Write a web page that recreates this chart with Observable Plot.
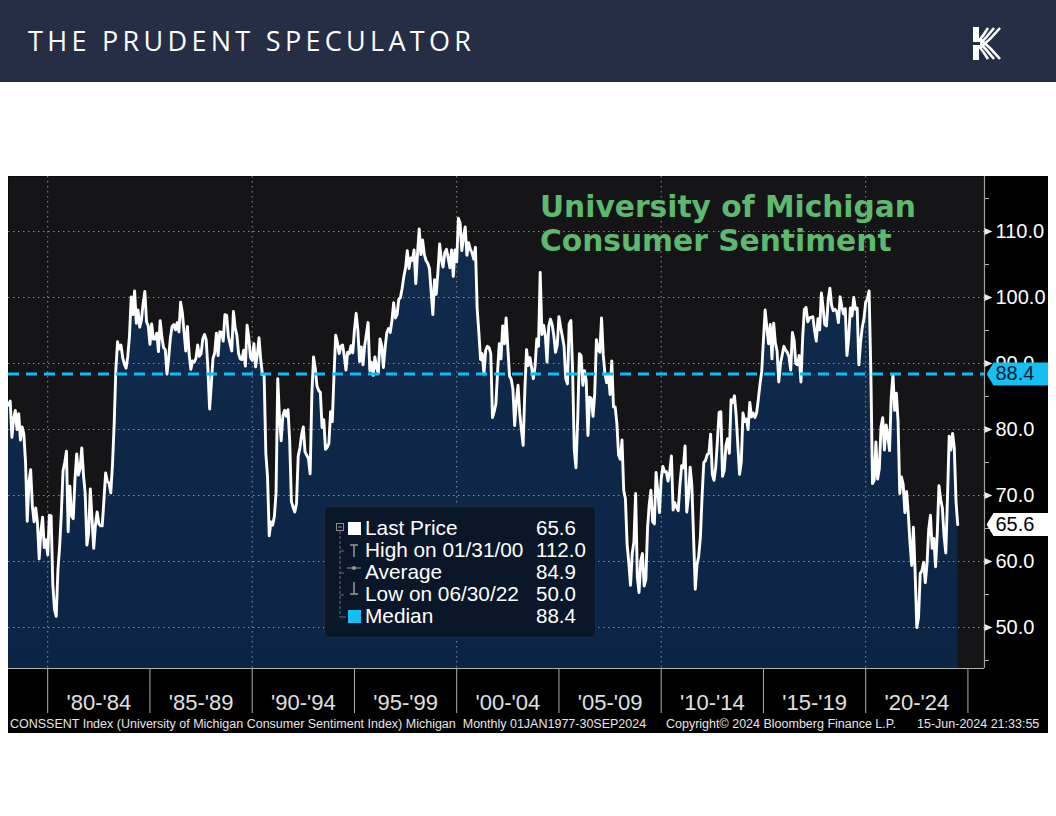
<!DOCTYPE html>
<html>
<head>
<meta charset="utf-8">
<script src="https://cdn.jsdelivr.net/npm/d3@7"></script>
<script src="https://cdn.jsdelivr.net/npm/@observablehq/plot@0.6"></script>
<style>
  html, body { margin: 0; padding: 0; }
  body { width: 1056px; height: 816px; background: #ffffff; position: relative; overflow: hidden; font-family: "Liberation Sans", Arial, sans-serif; }
  #header { position: absolute; left: 0; top: 0; width: 1056px; height: 82px; background: #252e44; }
  #brand { position: absolute; left: 28px; top: 23px; color: #ffffff; font-family: "Open Sans", "Noto Sans", sans-serif; font-size: 27px; letter-spacing: 4.3px; line-height: 36px; white-space: nowrap; }
  #logo { position: absolute; left: 972px; top: 27px; }
  #chart { position: absolute; left: 8px; top: 176px; width: 1040px; height: 557px; background: #000000; overflow: hidden; }
  #chart svg.plot { position: absolute; left: 0; top: 0; }
  #title { position: absolute; left: 532px; top: 14px; color: #5db96d; font-family: "DejaVu Sans", sans-serif; font-weight: bold; font-size: 29.7px; line-height: 34px; white-space: nowrap; }
  #legend { position: absolute; left: 316px; top: 330px; width: 270px; height: 130px; background: #0a1729; border: 1px solid #1f2c3d; border-radius: 5px; }
  #legend .row { position: absolute; left: 40px; height: 22px; line-height: 22px; font-size: 20.8px; color: #ffffff; white-space: nowrap; }
  #legend .val { position: absolute; left: 211px; height: 22px; line-height: 22px; font-size: 20.5px; color: #ffffff; white-space: nowrap; }
  #legend svg { position: absolute; left: 0; top: 0; }
  .foot { position: absolute; top: 541px; font-size: 12.5px; line-height: 14px; color: #e6e6e6; white-space: nowrap; font-family: "Liberation Sans", Arial, sans-serif; }
</style>
</head>
<body>
<div id="header">
  <div id="brand">THE PRUDENT SPECULATOR</div>
  <svg id="logo" width="30" height="33" viewBox="0 0 30 33">
    <rect x="1" y="0" width="6" height="33" fill="#ffffff"/>
    <g stroke="#ffffff" stroke-width="2.6" fill="none">
      <path d="M5 16 Q 12 8 16 1"/>
      <path d="M6 19 Q 15 10 22 1"/>
      <path d="M8 21 Q 19 12 28 1"/>
      <path d="M5 17 Q 12 25 16 32"/>
      <path d="M6 14 Q 15 23 22 32"/>
      <path d="M8 12 Q 19 21 28 32"/>
    </g>
    <rect x="0" y="15" width="8" height="3" fill="#252e44"/>
  </svg>
</div>

<div id="chart">
  <div id="plotHolder"></div>
  <div id="title">University of Michigan<br>Consumer Sentiment</div>
  <div id="legend">
    <svg width="40" height="130">
      <rect x="11.5" y="16.5" width="7" height="7" fill="none" stroke="#8a8a8a" stroke-width="1"/>
      <line x1="13" y1="20" x2="17" y2="20" stroke="#8a8a8a" stroke-width="1"/>
      <line x1="15" y1="24" x2="15" y2="110" stroke="#6f6f6f" stroke-width="1" stroke-dasharray="3,2"/>
      <line x1="15" y1="44" x2="19" y2="44" stroke="#6f6f6f"/>
      <line x1="15" y1="66" x2="19" y2="66" stroke="#6f6f6f"/>
      <line x1="15" y1="88" x2="19" y2="88" stroke="#6f6f6f"/>
      <line x1="15" y1="110" x2="21" y2="110" stroke="#6f6f6f"/>
      <rect x="23" y="15" width="13" height="13" fill="#ffffff"/>
      <line x1="25" y1="38" x2="33" y2="38" stroke="#9a9a9a" stroke-width="1.5"/>
      <line x1="29" y1="38" x2="29" y2="50" stroke="#9a9a9a" stroke-width="1.5"/>
      <line x1="22" y1="61" x2="36" y2="61" stroke="#9a9a9a" stroke-width="1"/>
      <circle cx="29" cy="61" r="2" fill="#9a9a9a"/>
      <line x1="29" y1="75" x2="29" y2="87" stroke="#9a9a9a" stroke-width="1.5"/>
      <line x1="25" y1="87" x2="33" y2="87" stroke="#9a9a9a" stroke-width="1.5"/>
      <rect x="23" y="103" width="13" height="13" fill="#14bff2"/>
    </svg>
  </div>
  <div class="foot" id="foot1"></div>
  <div class="foot" id="foot2"></div>
  <div class="foot" id="foot3"></div>
</div>

<script>
// ---- Monthly University of Michigan Consumer Sentiment, Jan 1978 - Jun 2024 ----
const cs1978_1984 = [
  83.7, 84.3, 78.8, 81.6, 82.9, 80.0, 82.4, 78.4, 80.4, 79.3, 75.0, 66.1,
  72.1, 73.9, 68.4, 66.0, 68.1, 65.8, 60.4, 64.5, 66.7, 62.1, 63.3, 61.0,
  67.0, 66.9, 56.5, 52.7, 51.7, 58.7, 62.3, 67.3, 73.7, 75.0, 76.7, 64.5,
  71.4, 66.9, 66.5, 72.4, 76.3, 73.1, 74.1, 77.2, 73.1, 70.3, 62.5, 64.3,
  71.0, 66.5, 62.0, 65.5, 67.5, 65.7, 65.4, 65.4, 69.3, 73.4, 72.1, 71.9,
  70.4, 74.6, 80.8, 89.1, 93.3, 92.2, 92.8, 90.9, 89.9, 89.3, 91.1, 94.2,
  100.1, 97.4, 101.0, 96.1, 98.1, 95.5, 96.6, 99.1, 100.9, 96.3, 95.7, 92.9
];
const cs1985_1989 = [
  96.0, 93.7, 93.7, 94.6, 91.8, 96.5, 94.0, 92.4, 92.1, 88.4, 90.9, 93.9,
  95.6, 95.9, 95.1, 96.2, 94.8, 99.3, 97.7, 94.9, 91.9, 95.6, 91.4, 89.1,
  90.4, 90.2, 90.8, 92.8, 91.1, 91.5, 93.7, 94.4, 93.6, 89.3, 83.1, 86.8,
  90.8, 91.6, 94.6, 91.2, 94.8, 94.7, 93.4, 97.4, 97.3, 94.1, 93.0, 91.9,
  97.9, 95.4, 94.3, 91.5, 90.7, 90.6, 92.0, 89.6, 95.8, 93.9, 90.9, 90.5
];
const cs1990_1994 = [
  93.0, 89.5, 91.3, 93.9, 90.6, 88.3, 88.2, 76.4, 72.8, 63.9, 66.0, 65.5,
  66.8, 70.4, 87.7, 81.8, 78.3, 82.1, 82.9, 82.0, 83.0, 78.3, 69.1, 68.2,
  67.5, 68.8, 76.0, 77.2, 79.2, 80.4, 76.6, 76.1, 75.6, 73.3, 85.3, 91.0,
  89.3, 86.6, 85.9, 85.6, 80.3, 81.5, 77.0, 77.3, 77.9, 82.7, 81.2, 88.2,
  94.3, 93.2, 91.5, 92.6, 92.8, 91.2, 89.0, 91.7, 91.5, 92.7, 91.6, 95.1
];
const cs1995_1999 = [
  97.6, 95.1, 90.3, 92.5, 89.8, 92.7, 94.4, 96.2, 88.9, 90.2, 88.2, 91.0,
  89.3, 88.5, 93.7, 92.7, 89.4, 92.4, 94.7, 95.3, 94.7, 96.5, 99.2, 96.9,
  97.4, 99.7, 100.0, 101.4, 103.2, 104.5, 107.1, 104.4, 106.0, 105.6, 107.2, 102.1,
  106.6, 110.4, 106.5, 108.7, 106.5, 105.6, 105.2, 104.4, 100.9, 97.4, 102.7, 100.5,
  103.9, 108.1, 105.7, 104.6, 106.8, 107.3, 106.0, 104.5, 107.2, 103.2, 107.2, 105.4
];
const cs2000_2004 = [
  112.0, 111.3, 107.1, 109.2, 110.7, 106.4, 108.3, 107.3, 106.8, 105.8, 107.6, 98.4,
  94.7, 90.6, 91.5, 88.4, 92.0, 92.6, 92.4, 91.5, 81.8, 82.7, 83.9, 88.8,
  93.0, 90.7, 95.7, 93.0, 96.9, 92.4, 88.1, 87.6, 86.1, 80.6, 84.2, 86.7,
  82.4, 79.9, 77.6, 86.0, 92.1, 89.7, 90.9, 89.3, 87.7, 89.6, 93.7, 92.6,
  103.8, 94.4, 95.8, 94.2, 90.2, 95.6, 96.7, 95.9, 94.2, 91.7, 92.8, 97.1
];
const cs2005_2009 = [
  95.5, 94.1, 92.6, 87.7, 86.9, 96.0, 96.5, 89.1, 76.9, 74.2, 81.6, 91.5,
  91.2, 86.7, 88.9, 87.4, 79.1, 84.9, 84.7, 82.0, 85.4, 93.6, 92.1, 91.7,
  96.9, 91.3, 88.4, 87.1, 88.3, 85.3, 90.4, 83.4, 83.4, 80.9, 76.1, 75.5,
  78.4, 70.8, 69.5, 62.6, 59.8, 56.4, 61.2, 63.0, 70.3, 57.6, 55.3, 60.1,
  61.2, 56.3, 57.3, 65.1, 68.7, 70.8, 66.0, 65.7, 73.5, 70.6, 67.4, 72.5
];
const cs2010_2014 = [
  74.4, 73.6, 73.6, 72.2, 73.6, 76.0, 67.8, 68.9, 68.2, 67.7, 71.6, 74.5,
  74.2, 77.5, 67.5, 69.8, 74.3, 71.5, 63.7, 55.8, 59.5, 60.8, 63.7, 69.9,
  75.0, 75.3, 76.2, 76.4, 79.3, 73.2, 72.3, 74.3, 78.3, 82.6, 82.7, 72.9,
  73.8, 77.6, 78.6, 76.4, 84.5, 84.1, 85.1, 82.1, 77.5, 73.2, 75.1, 82.5,
  81.2, 81.6, 80.0, 84.1, 81.9, 82.5, 81.8, 82.5, 84.6, 86.9, 88.8, 93.6
];
const cs2015_2019 = [
  98.1, 95.4, 93.0, 95.9, 90.7, 96.1, 93.1, 91.9, 87.2, 90.0, 91.3, 92.6,
  92.0, 91.7, 91.0, 89.0, 94.7, 93.5, 90.0, 89.8, 91.2, 87.2, 93.8, 98.2,
  98.5, 96.3, 96.9, 97.0, 97.1, 95.0, 93.4, 96.8, 95.1, 100.7, 98.5, 95.9,
  95.7, 99.7, 101.4, 98.8, 98.0, 98.2, 97.9, 96.2, 100.1, 98.6, 97.5, 98.3,
  91.2, 93.8, 98.4, 97.2, 100.0, 98.2, 98.4, 89.8, 93.2, 95.5, 96.8, 99.3
];
const cs2020_2024 = [
  99.8, 101.0, 89.1, 71.8, 72.3, 78.1, 72.5, 74.1, 80.4, 81.8, 76.9, 80.7,
  79.0, 76.8, 84.9, 88.3, 82.9, 85.5, 81.2, 70.3, 72.8, 71.7, 67.4, 70.6,
  67.2, 62.8, 59.4, 65.2, 58.4, 50.0, 51.5, 58.2, 58.6, 59.9, 56.8, 59.7,
  64.9, 67.0, 62.0, 63.5, 59.2, 64.2, 71.5, 69.4, 68.1, 63.8, 61.3, 69.7,
  79.0, 76.9, 79.4, 77.2, 69.1, 65.6
];
const firstYear = 1978;

// ---- Axis / legend values ----
const majorTicksY = [50, 60, 70, 80, 90, 100, 110];
const minorTicksY = [45, 55, 65, 75, 85, 95, 105, 115];
const yDomain = [43.79, 118.33];
const xDomain = [1978.083, 2025.81];
const decadeGrid = [1980, 1990, 2000, 2010, 2020];
const periodStarts = [1980, 1985, 1990, 1995, 2000, 2005, 2010, 2015, 2020, 2025];
const periodLabels = ["'80-'84", "'85-'89", "'90-'94", "'95-'99", "'00-'04", "'05-'09", "'10-'14", "'15-'19", "'20-'24"];
const medianValue = 88.4;
const lastValue = 65.6;
const legendLabels = ["Last Price", "High on 01/31/00", "Average", "Low on 06/30/22", "Median"];
const legendValues = ["65.6", "112.0", "84.9", "50.0", "88.4"];
const footerTexts = [
  "CONSSENT Index (University of Michigan Consumer Sentiment Index) Michigan\u00A0\u00A0Monthly 01JAN1977-30SEP2024",
  "Copyright\u00A9 2024 Bloomberg Finance L.P.",
  "15-Jun-2024 21:33:55"
];

// ---- build table ----
const monthly = [].concat(cs1978_1984, cs1985_1989, cs1990_1994, cs1995_1999,
  cs2000_2004, cs2005_2009, cs2010_2014, cs2015_2019, cs2020_2024);
const data = monthly.map((v, i) => ({x: firstYear + (i + 1) / 12, v}));
const periods = periodLabels.map((label, i) => ({mid: (periodStarts[i] + periodStarts[i + 1]) / 2, label}));

// custom symbols
const triRight = {draw(ctx) { ctx.moveTo(0, -3.5); ctx.lineTo(8, 0); ctx.lineTo(0, 3.5); ctx.closePath(); }};
const tagShape = {draw(ctx) { ctx.moveTo(0, 0); ctx.lineTo(7, -11.5); ctx.lineTo(70, -11.5); ctx.lineTo(70, 11.5); ctx.lineTo(7, 11.5); ctx.closePath(); }};

const chart = Plot.plot({
  width: 1040,
  height: 557,
  marginLeft: 0,
  marginRight: 64,
  marginTop: 0,
  marginBottom: 65,
  style: {background: "transparent", fontFamily: "Liberation Sans, Arial, sans-serif", overflow: "visible"},
  x: {domain: xDomain},
  y: {domain: yDomain},
  marks: [
    Plot.frame({fill: "#151518", stroke: null}),
    Plot.areaY(data, {x: "x", y: "v", fill: "url(#navyGrad)", clip: true}),
    Plot.gridY({ticks: majorTicksY, stroke: "#9a9a9a", strokeOpacity: 0.9, strokeDasharray: "1.5,3.5"}),
    Plot.gridX({ticks: decadeGrid, stroke: "#9a9a9a", strokeOpacity: 0.9, strokeDasharray: "1.5,3.5"}),
    Plot.lineY(data, {x: "x", y: "v", stroke: "#ffffff", strokeWidth: 2.9, clip: true}),
    Plot.ruleY([medianValue], {stroke: "#0dbdf3", strokeWidth: 3, strokeDasharray: "11,7"}),
    Plot.ruleY([yDomain[0]], {stroke: "#b0b0b0", strokeWidth: 1.2}),
    Plot.ruleX([xDomain[1]], {stroke: "#a0a0a0", strokeWidth: 1.2}),
    // bottom separators
    Plot.axisX({ticks: periodStarts, tickSize: 45, tickFormat: () => "", stroke: "#b0b0b0", label: null}),
    Plot.text(periods, {x: "mid", text: "label", frameAnchor: "bottom", dy: 34, fontSize: 22, fill: "#e0e0e0", lineAnchor: "middle"}),
    // right axis
    Plot.axisY({anchor: "right", ticks: minorTicksY, tickSize: 4, tickFormat: () => "", stroke: "#b0b0b0", label: null}),
    Plot.dot(majorTicksY, {y: d => d, frameAnchor: "right", symbol: triRight, fill: "#e8e8e8", stroke: null}),
    Plot.axisY({anchor: "right", ticks: majorTicksY, tickSize: 0, tickPadding: 11, tickFormat: d => d.toFixed(1), fontSize: 20, color: "#ffffff", label: null}),
    // value tags
    Plot.dot([medianValue], {y: d => d, frameAnchor: "right", dx: 2, symbol: tagShape, fill: "#14bff2", stroke: null}),
    Plot.text([medianValue], {y: d => d, frameAnchor: "right", dx: 11, text: d => d.toFixed(1), textAnchor: "start", fontSize: 20, fill: "#0a1a2a"}),
    Plot.dot([lastValue], {y: d => d, frameAnchor: "right", dx: 2, symbol: tagShape, fill: "#ffffff", stroke: null}),
    Plot.text([lastValue], {y: d => d, frameAnchor: "right", dx: 11, text: d => d.toFixed(1), textAnchor: "start", fontSize: 20, fill: "#000000"})
  ]
});
// gradient for the area fill
const ns = "http://www.w3.org/2000/svg";
const defs = document.createElementNS(ns, "defs");
const grad = document.createElementNS(ns, "linearGradient");
grad.setAttribute("id", "navyGrad");
grad.setAttribute("x1", "0"); grad.setAttribute("y1", "0");
grad.setAttribute("x2", "0"); grad.setAttribute("y2", "1");
[["0", "#112b4e"], ["1", "#08203f"]].forEach(([o, c]) => {
  const s = document.createElementNS(ns, "stop");
  s.setAttribute("offset", o); s.setAttribute("stop-color", c);
  grad.appendChild(s);
});
defs.appendChild(grad);
chart.insertBefore(defs, chart.firstChild);
chart.classList.add("plot");
document.getElementById("plotHolder").appendChild(chart);

// legend rows
const legend = document.getElementById("legend");
legendLabels.forEach((lab, i) => {
  const r = document.createElement("div");
  r.className = "row"; r.style.top = (10 + i * 22) + "px"; r.textContent = lab;
  legend.appendChild(r);
  const v = document.createElement("div");
  v.className = "val"; v.style.top = (10 + i * 22) + "px"; v.textContent = legendValues[i];
  legend.appendChild(v);
});

// footer
const f1 = document.getElementById("foot1"), f2 = document.getElementById("foot2"), f3 = document.getElementById("foot3");
f1.textContent = footerTexts[0]; f1.style.left = "2px";
f2.textContent = footerTexts[1]; f2.style.left = "658px";
f3.textContent = footerTexts[2]; f3.style.left = "909px";
</script>
</body>
</html>
